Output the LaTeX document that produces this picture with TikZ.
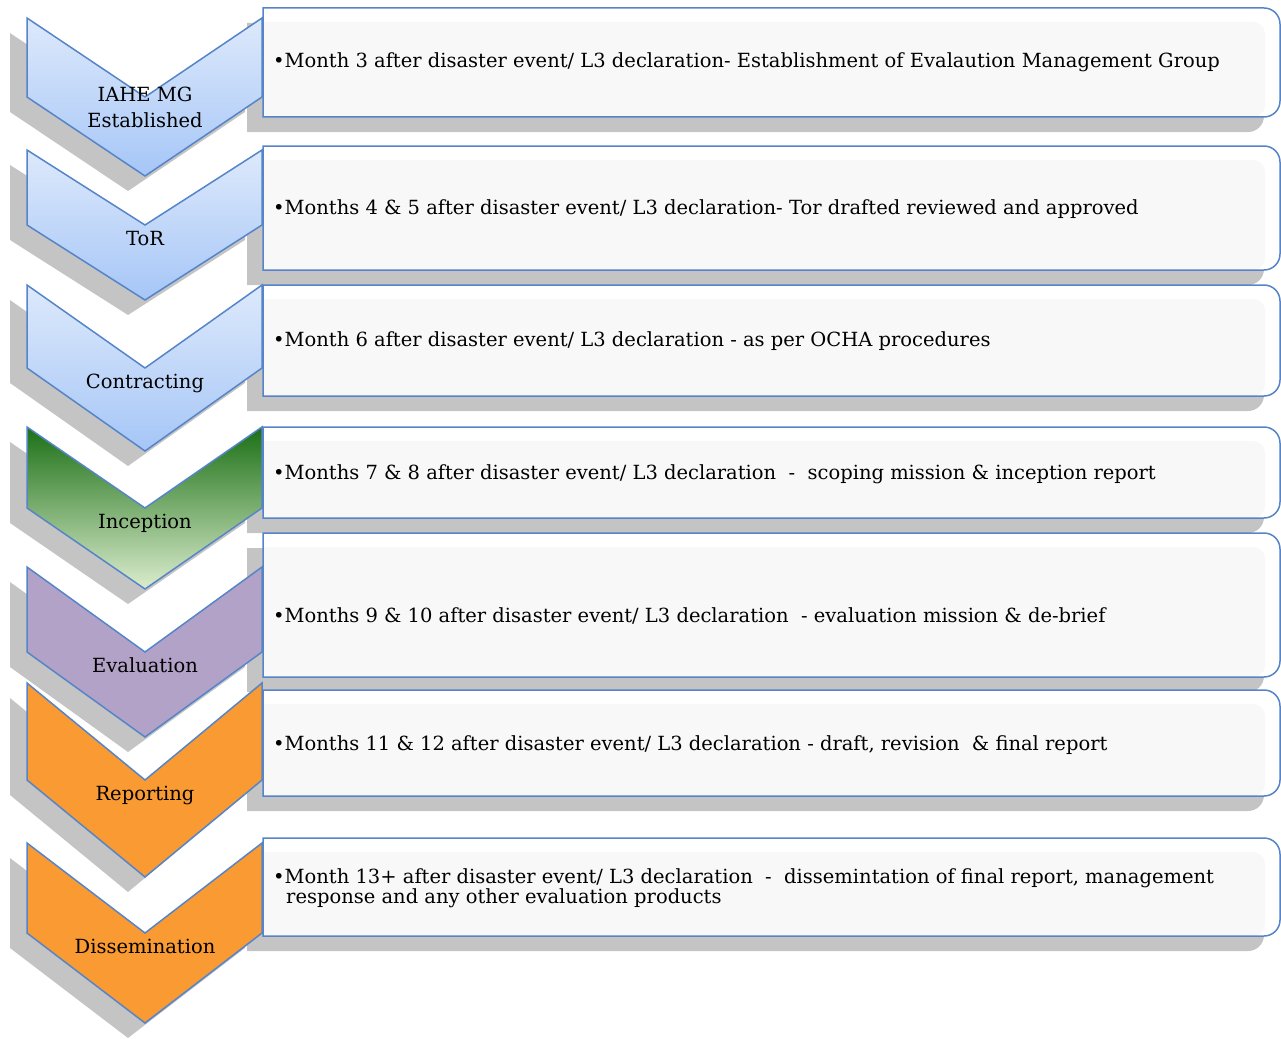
\documentclass[tikz,border=0pt]{standalone}
\usepackage{fontspec}
\setmainfont{DejaVu Serif}
\usepackage{xcolor}

\definecolor{edgeblue}{HTML}{5585C8}
\definecolor{shadowgray}{HTML}{C4C4C4}
\definecolor{innergray}{HTML}{F8F8F8}
\definecolor{blueTop}{HTML}{DDE9FB}
\definecolor{blueBot}{HTML}{A6C6F7}
\definecolor{greenTop}{HTML}{1C7016}
\definecolor{greenBot}{HTML}{DBEDCD}
\definecolor{purpleFill}{HTML}{B3A2C7}
\definecolor{orangeFill}{HTML}{F99A32}

\tikzset{
  chev/.style={draw=edgeblue, line width=1.5pt, line join=miter},
  chevshadow/.style={fill=shadowgray},
  bluechev/.style={top color=blueTop, bottom color=blueBot},
  greenchev/.style={top color=greenTop, bottom color=greenBot},
  purplechev/.style={fill=purpleFill},
  orangechev/.style={fill=orangeFill},
  boxframe/.style={draw=edgeblue, line width=1.5pt},
  lbl/.style={font=\fontsize{19.5}{26}\selectfont, align=center, anchor=base, inner sep=0pt},
  txt/.style={font=\fontsize{19.5}{21}\selectfont, anchor=base west, inner sep=0pt},
}

\begin{document}
\begin{tikzpicture}[x=1pt,y=-1pt]
\useasboundingbox (0,0) rectangle (1281,1038);
% shadows of the boxes
\foreach \t/\b in {8/117,146/270,285/396,427/518,533/677,690/796,838/936}
  \fill[chevshadow, xshift=-16pt, yshift=-15pt] (263,\b) -- (263,\t) -- (700,\t) [rounded corners=16pt] -- (1280,\t) -- (1280,\b) -- (700,\b) [sharp corners] -- (263,\b) -- cycle;
% chevrons
\foreach \t/\d/\st in {18/79/bluechev,150/75/bluechev,285/83/bluechev,427/81/greenchev,567/85/purplechev,683/97/orangechev,843/90/orangechev}{
  \fill[chevshadow, xshift=-17pt, yshift=-15pt] (27,\t) -- (145,\t+\d) -- (262,\t) -- (262,\t+\d) -- (145,\t+2*\d) -- (27,\t+\d) -- cycle;
  \draw[chev,\st] (27,\t) -- (145,\t+\d) -- (262,\t) -- (262,\t+\d) -- (145,\t+2*\d) -- (27,\t+\d) -- cycle;
}
% boxes
\foreach \t/\b in {8/117,146/270,285/396,427/518,533/677,690/796,838/936}{
  \fill[white] (263,\b) -- (263,\t) -- (700,\t) [rounded corners=16pt] -- (1280,\t) -- (1280,\b) -- (700,\b) [sharp corners] -- (263,\b) -- cycle;
  \fill[innergray] (264,\b) -- (264,\t+14) -- (700,\t+14) [rounded corners=12pt] -- (1265,\t+14) -- (1265,\b) -- (700,\b) [sharp corners] -- (264,\b) -- cycle;
  \draw[boxframe] (263,\b) -- (263,\t) -- (700,\t) [rounded corners=16pt] -- (1280,\t) -- (1280,\b) -- (700,\b) [sharp corners] -- (263,\b) -- cycle;
}
% stage labels
\node[lbl] (lab1) at (145,128) {IAHE MG\\Established};
\node[lbl] (lab2) at (145,245) {ToR};
\node[lbl] (lab3) at (145,388) {Contracting};
\node[lbl] (lab4) at (145,528) {Inception};
\node[lbl] (lab5) at (145,672) {Evaluation};
\node[lbl] (lab6) at (145,800) {Reporting};
\node[lbl] (lab7) at (145,953) {Dissemination};
% box texts
\node[txt] (txt1) at (273,68) {•Month 3 after disaster event/ L3 declaration- Establishment of Evalaution Management Group};
\node[txt] (txt2) at (273,214) {•Months 4 \& 5 after disaster event/ L3 declaration- Tor drafted reviewed and approved};
\node[txt] (txt3) at (273,346) {•Month 6 after disaster event/ L3 declaration - as per OCHA procedures};
\node[txt] (txt4) at (273,479) {•Months 7 \& 8 after disaster event/ L3 declaration \ - \ scoping mission \& inception report};
\node[txt] (txt5) at (273,622) {•Months 9 \& 10 after disaster event/ L3 declaration \ - evaluation mission \& de-brief};
\node[txt] (txt6) at (273,750) {•Months 11 \& 12 after disaster event/ L3 declaration - draft, revision \ \& final report};
\node[txt] (txt7) at (273,883) {•Month 13+ after disaster event/ L3 declaration \ - \ dissemintation of final report, management};
\node[txt] (txt7b) at (286,903) {response and any other evaluation products};
\end{tikzpicture}
\end{document}
